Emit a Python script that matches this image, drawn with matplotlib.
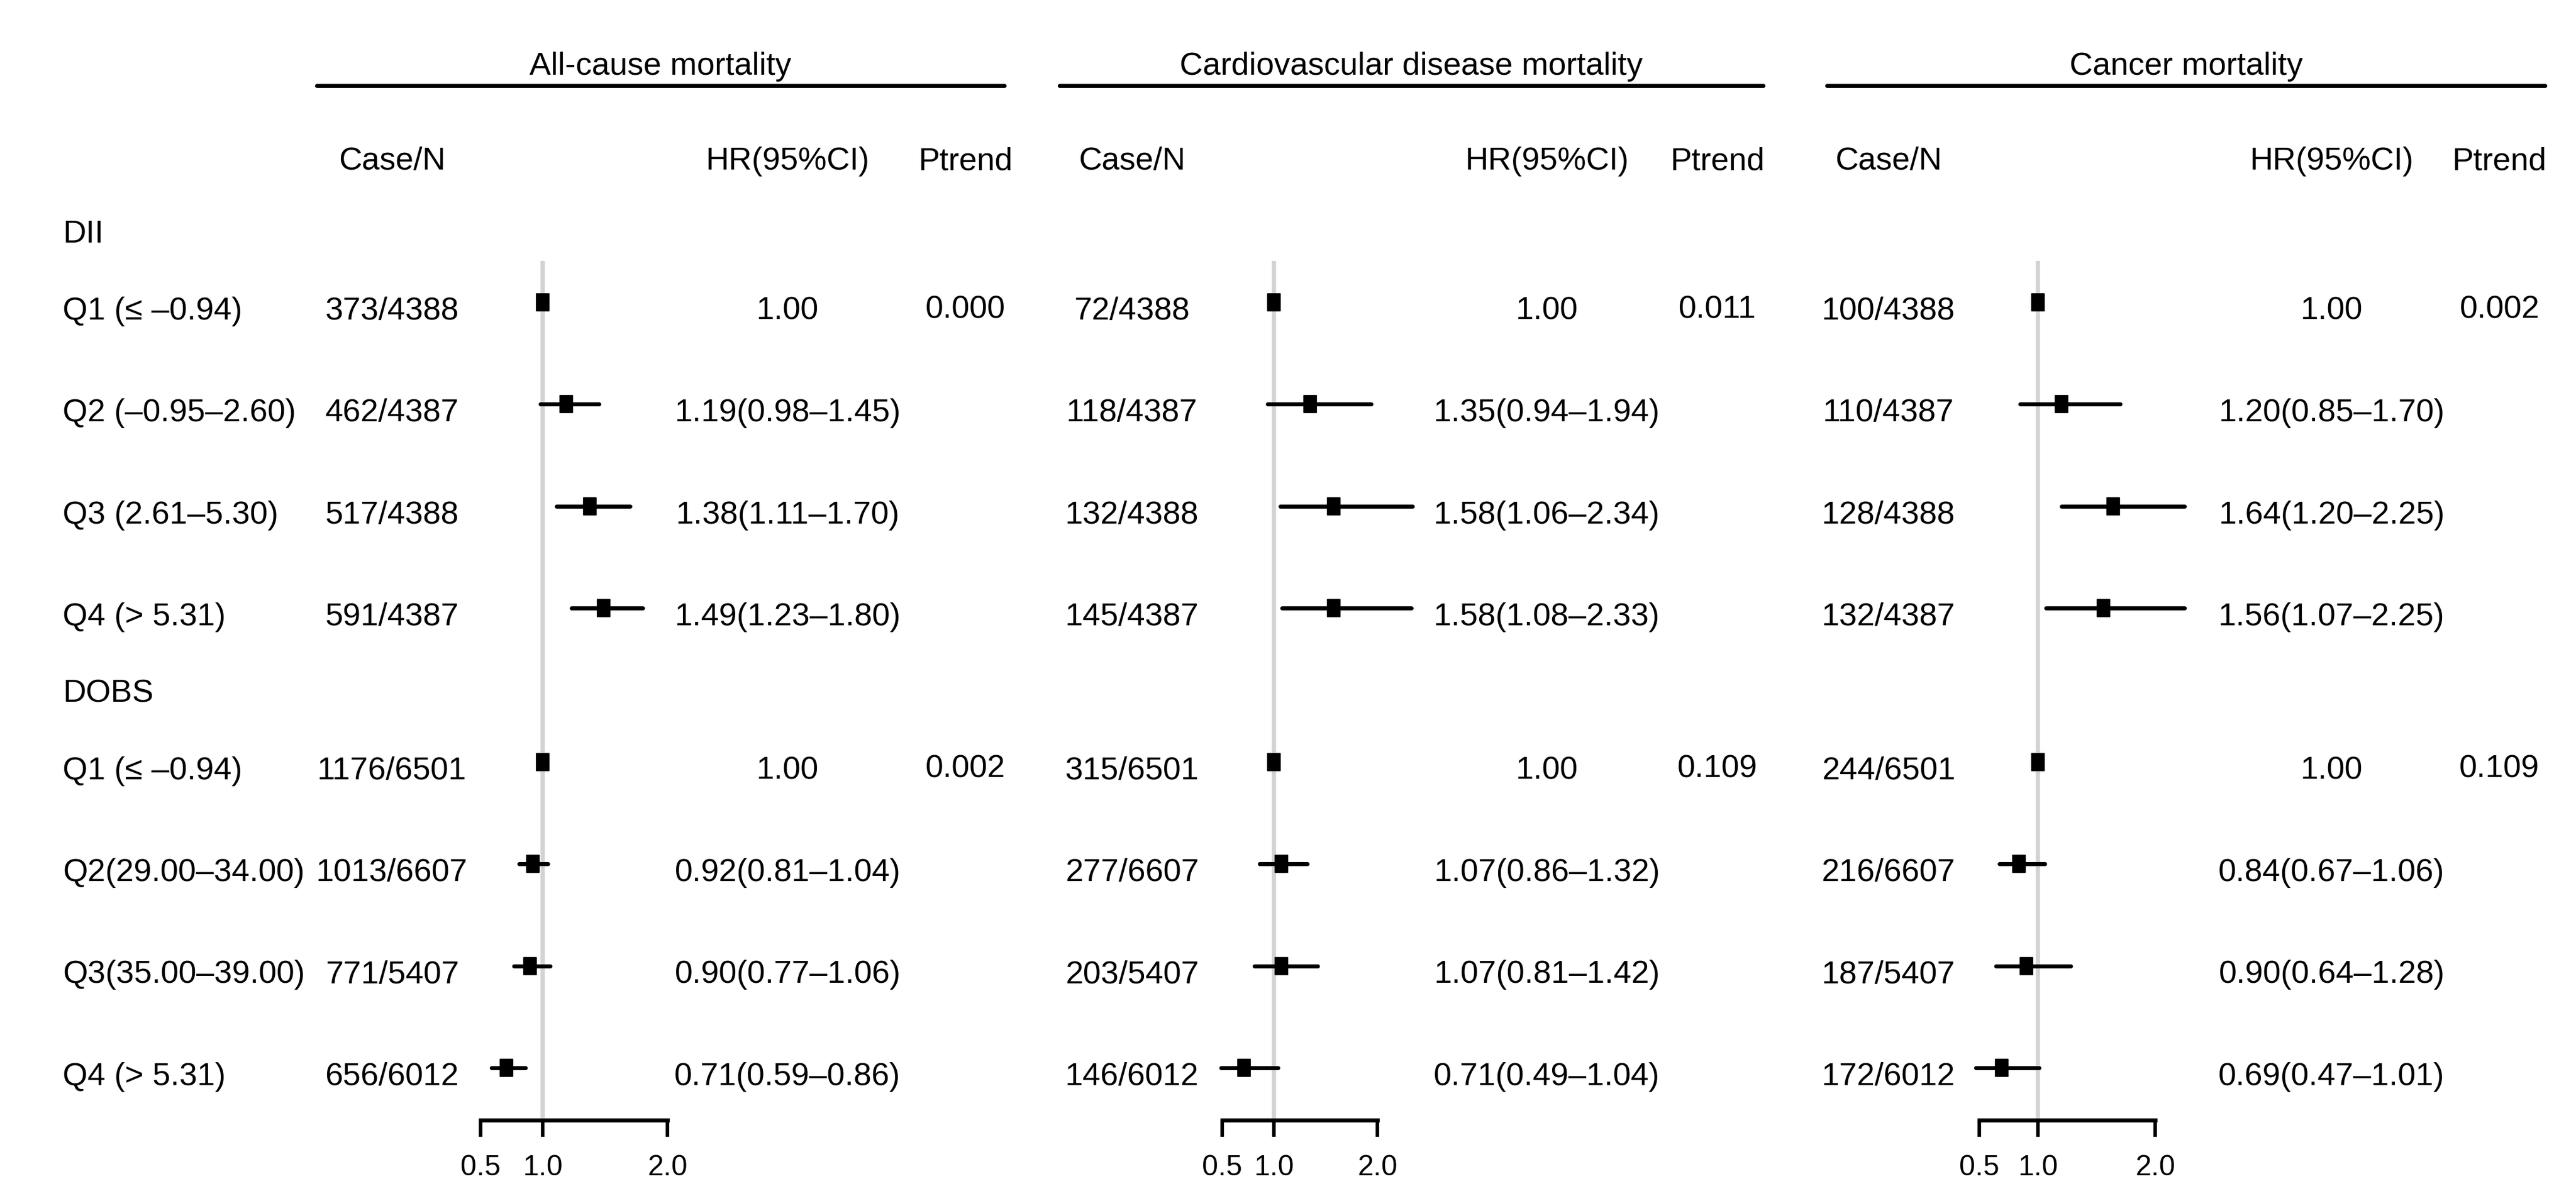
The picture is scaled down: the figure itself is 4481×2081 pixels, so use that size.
import matplotlib
matplotlib.use("Agg")
import matplotlib.pyplot as plt
from matplotlib.path import Path
from matplotlib.markers import MarkerStyle

plt.rcParams["font.family"] = ["Liberation Sans", "DejaVu Sans"]

# --- data ---
groups = ["DII", "DOBS"]
quartiles = [
    ["Q1 (≤ –0.94)", "Q2 (–0.95–2.60)", "Q3 (2.61–5.30)", "Q4 (> 5.31)"],
    ["Q1 (≤ –0.94)", "Q2(29.00–34.00)", "Q3(35.00–39.00)", "Q4 (> 5.31)"],
]
outcomes = ["All-cause mortality", "Cardiovascular disease mortality", "Cancer mortality"]

all_cases = ["373/4388", "462/4387", "517/4388", "591/4387",
             "1176/6501", "1013/6607", "771/5407", "656/6012"]
all_hr = [1.00, 1.19, 1.38, 1.49, 1.00, 0.92, 0.90, 0.71]
all_lo = [1.00, 0.98, 1.11, 1.23, 1.00, 0.81, 0.77, 0.59]
all_hi = [1.00, 1.45, 1.70, 1.80, 1.00, 1.04, 1.06, 0.86]
all_p = ["0.000", "0.002"]

cvd_cases = ["72/4388", "118/4387", "132/4388", "145/4387",
             "315/6501", "277/6607", "203/5407", "146/6012"]
cvd_hr = [1.00, 1.35, 1.58, 1.58, 1.00, 1.07, 1.07, 0.71]
cvd_lo = [1.00, 0.94, 1.06, 1.08, 1.00, 0.86, 0.81, 0.49]
cvd_hi = [1.00, 1.94, 2.34, 2.33, 1.00, 1.32, 1.42, 1.04]
cvd_p = ["0.011", "0.109"]

can_cases = ["100/4388", "110/4387", "128/4388", "132/4387",
             "244/6501", "216/6607", "187/5407", "172/6012"]
can_hr = [1.00, 1.20, 1.64, 1.56, 1.00, 0.84, 0.90, 0.69]
can_lo = [1.00, 0.85, 1.20, 1.07, 1.00, 0.67, 0.64, 0.47]
can_hi = [1.00, 1.70, 2.25, 2.25, 1.00, 1.06, 1.28, 1.01]
can_p = ["0.002", "0.109"]

x_ticks = [0.5, 1.0, 2.0]
tick_labels = ["0.5", "1.0", "2.0"]

panels = [
    (all_cases, all_hr, all_lo, all_hi, all_p),
    (cvd_cases, cvd_hr, cvd_lo, cvd_hi, cvd_p),
    (can_cases, can_hr, can_lo, can_hi, can_p),
]

# --- layout (pixels of the 4481x2081 canvas) ---
W, H = 4481, 2081
dpi = 300
fs = 13.4
half_cap = 19          # baseline offset from the cap-centre of a row
label_x = 109
case_x = [682, 1969, 3285]
hr_x = [1370, 2691, 4056]
p_x = [1679, 2987, 4348]
rule_x = [(551, 1747), (1843, 3067), (3178, 4427)]
ref_px = [944, 2216, 3545]     # where HR = 1.0 sits
unit_px = [217, 180, 204]      # pixels per HR unit
xlo, xhi = 0.3, 2.6
axis_y = 1949
ref_top = 454

# row positions: group header, then four quartile rows
header_gap, step = 134, 177.3
row_y = []
head_y = []
y = 403
for g in groups:
    head_y.append(y)
    rows = [y + header_gap + k * step for k in range(4)]
    row_y.extend(rows)
    y = rows[-1] + header_gap

fig = plt.figure(figsize=(W / dpi, H / dpi), dpi=dpi)
bg = fig.add_axes([0, 0, 1, 1])
bg.set_xlim(0, W)
bg.set_ylim(H, 0)
bg.axis("off")

# row labels
for gi, g in enumerate(groups):
    bg.text(label_x, head_y[gi] + half_cap, g, fontsize=fs, ha="left", va="baseline")
    for k, lab in enumerate(quartiles[gi]):
        bg.text(label_x, row_y[gi * 4 + k] + half_cap, lab, fontsize=fs,
                ha="left", va="baseline")

box = MarkerStyle(Path([(-0.37, -0.5), (0.37, -0.5), (0.37, 0.5), (-0.37, 0.5), (-0.37, -0.5)],
                       closed=True), joinstyle="round")

for pi, (cases, hr, lo, hi, pt) in enumerate(panels):
    x0, x1 = rule_x[pi]
    # outcome header and rule
    bg.text((x0 + x1) / 2, 130, outcomes[pi], fontsize=fs, ha="center", va="baseline")
    bg.hlines(149, x0, x1, color="black", lw=1.7, capstyle="round")
    # column headers
    bg.text(case_x[pi], 295, "Case/N", fontsize=fs, ha="center", va="baseline")
    bg.text(hr_x[pi], 295, "HR(95%CI)", fontsize=fs, ha="center", va="baseline")
    bg.text(p_x[pi], 295, "Ptrend", fontsize=fs, ha="center", va="baseline")

    for i in range(len(cases)):
        yb = row_y[i] + half_cap
        bg.text(case_x[pi], yb, cases[i], fontsize=fs, ha="center", va="baseline")
        if lo[i] == hi[i]:
            hr_txt = f"{hr[i]:.2f}"
        else:
            hr_txt = f"{hr[i]:.2f}({lo[i]:.2f}–{hi[i]:.2f})"
        bg.text(hr_x[pi], yb, hr_txt, fontsize=fs, ha="center", va="baseline")
    for gi in range(len(groups)):
        bg.text(p_x[pi], row_y[gi * 4] + half_cap - 3, pt[gi], fontsize=fs,
                ha="center", va="baseline")

    # forest axes
    left = ref_px[pi] - (1.0 - xlo) * unit_px[pi]
    width = (xhi - xlo) * unit_px[pi]
    ax = fig.add_axes([left / W, 0, width / W, 1])
    ax.set_xlim(xlo, xhi)
    ax.set_ylim(H, 0)
    ax.patch.set_visible(False)
    for s in ["top", "left", "right"]:
        ax.spines[s].set_visible(False)
    ax.spines["bottom"].set_position(("data", axis_y))
    ax.spines["bottom"].set_bounds(x_ticks[0], x_ticks[-1])
    ax.spines["bottom"].set_linewidth(1.7)
    ax.set_yticks([])
    ax.set_xticks(x_ticks)
    ax.set_xticklabels(tick_labels)
    ax.tick_params(axis="x", direction="out", length=7, width=1.5, pad=7.5,
                   labelsize=12, colors="black")

    ax.vlines(1.0, ref_top, axis_y, color="#d3d3d3", lw=1.8, zorder=1)
    mark_y = [r - 11 for r in row_y]
    ax.hlines(mark_y, lo, hi, color="black", lw=1.7, capstyle="round", zorder=2)
    ax.plot(hr, mark_y, linestyle="none", marker=box, markersize=7.2,
            color="black", markeredgewidth=0.4, zorder=3, clip_on=False)

fig.savefig("out.png", dpi=dpi, facecolor="white")
